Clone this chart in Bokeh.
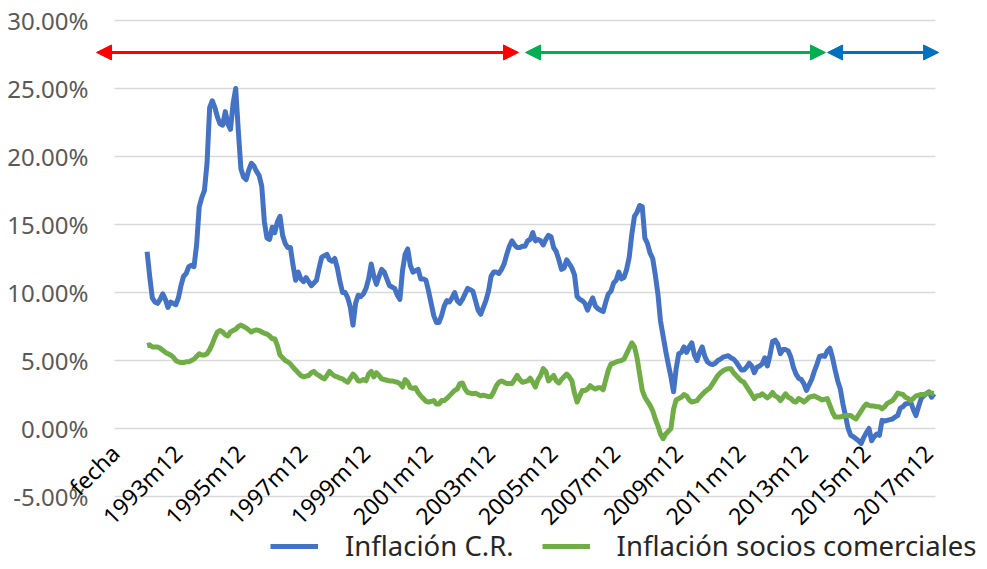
import math
from bokeh.plotting import figure
from bokeh.models import (Range1d, Legend, LegendItem, Arrow, NormalHead,
                          ColumnDataSource, LabelSet)
from bokeh.core.properties import value
from bokeh.embed import file_html
from bokeh.resources import INLINE

# ---------------- data ----------------
categories = ["fecha"] + [f"{y}m{m}" for y in range(1992, 2018) for m in range(1, 13)] + ["2018m1", "2018m2"]
tick_labels = ["fecha", "1993m12", "1995m12", "1997m12", "1999m12", "2001m12", "2003m12",
               "2005m12", "2007m12", "2009m12", "2011m12", "2013m12", "2015m12", "2017m12"]
y_ticks = [-5, 0, 5, 10, 15, 20, 25, 30]
first_month = "1992m12"

# Inflación C.R. (%), monthly
cr_1992 = [13.0]
cr_1993 = [11.2, 9.6, 9.3, 9.2, 9.5, 9.9, 9.5, 8.9, 9.3, 9.2, 9.1, 9.6]
cr_1994 = [10.5, 11.2, 11.4, 11.9, 12.0, 11.9, 13.5, 16.3, 17.0, 17.5, 19.5, 23.6]
cr_1995 = [24.1, 23.6, 22.9, 22.4, 22.3, 23.3, 22.4, 22.0, 23.9, 25.0, 21.9, 19.1]
cr_1996 = [18.5, 18.3, 19.0, 19.5, 19.3, 18.9, 18.6, 17.8, 15.2, 14.0, 13.9, 14.8]
cr_1997 = [14.4, 15.2, 15.6, 14.2, 13.6, 13.3, 13.3, 12.0, 10.9, 11.5, 11.0, 10.8]
cr_1998 = [11.1, 10.8, 10.5, 10.7, 10.9, 11.8, 12.6, 12.7, 12.8, 12.4, 12.3, 12.5]
cr_1999 = [11.8, 10.8, 10.0, 10.0, 9.6, 8.9, 7.6, 9.2, 9.8, 9.7, 9.9, 10.3]
cr_2000 = [11.0, 12.1, 11.2, 10.6, 11.2, 11.7, 11.5, 11.0, 10.5, 10.4, 10.3, 9.8]
cr_2001 = [9.5, 11.6, 12.8, 13.2, 12.0, 11.5, 11.6, 11.7, 11.0, 11.0, 10.9, 10.1]
cr_2002 = [9.2, 8.3, 7.8, 7.8, 8.3, 9.0, 9.4, 9.3, 9.6, 10.0, 9.4, 9.2]
cr_2003 = [9.5, 9.9, 10.3, 10.2, 10.1, 9.4, 8.7, 8.4, 8.9, 9.4, 10.1, 11.2]
cr_2004 = [11.5, 11.5, 11.4, 11.7, 12.1, 12.8, 13.4, 13.8, 13.5, 13.3, 13.3, 13.4]
cr_2005 = [13.4, 13.8, 13.9, 14.4, 13.8, 13.9, 13.8, 13.5, 13.9, 14.2, 14.1, 13.3]
cr_2006 = [13.0, 12.4, 11.7, 11.8, 12.4, 12.1, 11.8, 11.3, 9.7, 9.5, 9.4, 9.2]
cr_2007 = [8.7, 9.2, 9.6, 9.0, 8.8, 8.7, 8.6, 9.3, 9.9, 10.1, 10.7, 10.9]
cr_2008 = [11.5, 11.0, 11.1, 11.7, 12.6, 14.3, 15.6, 15.9, 16.4, 16.3, 14.0, 13.6]
cr_2009 = [12.9, 12.5, 11.3, 9.9, 7.9, 6.8, 5.7, 4.7, 3.8, 2.7, 4.4, 5.5]
cr_2010 = [5.6, 6.0, 5.6, 6.0, 6.3, 5.4, 5.0, 5.6, 6.0, 5.3, 4.9, 4.75]
cr_2011 = [4.7, 4.8, 5.0, 5.1, 5.25, 5.3, 5.35, 5.2, 5.1, 4.9, 4.6, 4.3]
cr_2012 = [4.3, 4.5, 4.8, 4.6, 4.1, 4.5, 4.6, 4.75, 5.2, 4.6, 5.4, 6.4]
cr_2013 = [6.5, 6.2, 5.5, 5.8, 5.8, 5.7, 5.25, 4.5, 4.0, 3.7, 3.6, 3.3]
cr_2014 = [2.8, 3.2, 3.6, 4.2, 4.7, 5.3, 5.35, 5.3, 5.7, 5.9, 5.2, 4.3]
cr_2015 = [3.5, 2.9, 1.8, 0.9, 0.0, -0.5, -0.6, -0.75, -0.9, -1.1, -0.65, -0.3]
cr_2016 = [0.0, -0.9, -0.6, -0.4, -0.5, 0.6, 0.55, 0.6, 0.65, 0.7, 0.85, 0.95]
cr_2017 = [1.5, 1.6, 1.8, 1.85, 1.95, 1.4, 0.95, 1.6, 2.2, 2.4, 2.55, 2.7]
cr_2018 = [2.3, 2.55]

# Inflación socios comerciales (%), monthly
sc_1992 = [6.1]
sc_1993 = [6.15, 6.0, 6.0, 6.0, 5.9, 5.75, 5.6, 5.5, 5.4, 5.25, 5.0, 4.9]
sc_1994 = [4.85, 4.85, 4.9, 4.9, 5.0, 5.1, 5.3, 5.5, 5.4, 5.4, 5.5, 5.8]
sc_1995 = [6.2, 6.7, 7.1, 7.2, 7.1, 6.9, 6.8, 7.1, 7.2, 7.3, 7.5, 7.6]
sc_1996 = [7.5, 7.4, 7.25, 7.1, 7.2, 7.25, 7.2, 7.1, 7.0, 6.95, 6.8, 6.6]
sc_1997 = [6.6, 6.1, 5.4, 5.2, 5.0, 4.9, 4.75, 4.5, 4.3, 4.1, 3.9, 3.8]
sc_1998 = [3.85, 3.9, 4.1, 4.2, 4.0, 3.9, 3.75, 3.65, 3.9, 4.2, 4.0, 3.85]
sc_1999 = [3.8, 3.7, 3.65, 3.5, 3.4, 3.7, 4.0, 3.8, 3.5, 3.5, 3.6, 3.5]
sc_2000 = [4.0, 4.2, 3.8, 4.1, 3.9, 3.65, 3.6, 3.55, 3.5, 3.5, 3.45, 3.4]
sc_2001 = [3.3, 3.05, 3.6, 3.4, 3.0, 2.95, 3.0, 2.65, 2.4, 2.2, 2.0, 1.95]
sc_2002 = [2.0, 2.05, 1.8, 1.8, 2.05, 2.05, 2.2, 2.4, 2.6, 2.8, 2.9, 3.3]
sc_2003 = [3.35, 2.9, 2.65, 2.6, 2.55, 2.6, 2.5, 2.4, 2.45, 2.4, 2.35, 2.35]
sc_2004 = [2.7, 3.15, 3.4, 3.5, 3.4, 3.3, 3.3, 3.3, 3.6, 3.9, 3.6, 3.4]
sc_2005 = [3.45, 3.5, 3.7, 3.4, 3.05, 3.6, 3.9, 4.4, 4.2, 3.5, 3.7, 3.9]
sc_2006 = [3.5, 3.35, 3.6, 3.8, 4.0, 3.8, 3.5, 2.6, 1.95, 2.4, 2.8, 2.8]
sc_2007 = [2.9, 3.15, 3.0, 2.9, 3.0, 3.0, 2.85, 3.6, 4.3, 4.75, 4.8, 4.9]
sc_2008 = [4.95, 5.0, 5.1, 5.5, 5.9, 6.3, 6.0, 5.2, 4.0, 2.8, 2.3, 2.0]
sc_2009 = [1.7, 1.3, 0.7, 0.2, -0.4, -0.75, -0.4, -0.2, 0.0, 1.4, 2.1, 2.2]
sc_2010 = [2.3, 2.5, 2.4, 2.1, 1.95, 2.0, 2.05, 2.3, 2.5, 2.7, 2.85, 3.0]
sc_2011 = [3.3, 3.6, 3.9, 4.1, 4.25, 4.35, 4.4, 4.4, 4.1, 3.9, 3.7, 3.5]
sc_2012 = [3.4, 3.1, 2.8, 2.5, 2.2, 2.4, 2.4, 2.55, 2.4, 2.25, 2.4, 2.65]
sc_2013 = [2.4, 2.3, 2.05, 2.3, 2.55, 2.3, 2.2, 2.0, 1.95, 2.2, 2.1, 1.95]
sc_2014 = [2.1, 2.3, 2.35, 2.4, 2.3, 2.2, 2.1, 2.15, 2.2, 1.7, 1.2, 0.85]
sc_2015 = [0.85, 0.85, 0.9, 0.95, 0.95, 0.95, 0.8, 0.7, 1.0, 1.3, 1.6, 1.8]
sc_2016 = [1.7, 1.65, 1.65, 1.6, 1.6, 1.45, 1.6, 1.85, 1.95, 2.05, 2.3, 2.6]
sc_2017 = [2.55, 2.5, 2.3, 2.2, 2.05, 2.2, 2.4, 2.45, 2.5, 2.5, 2.55, 2.65]
sc_2018 = [2.6, 2.6]

cr_values = (cr_1992 + cr_1993 + cr_1994 + cr_1995 + cr_1996 + cr_1997 + cr_1998 + cr_1999 +
             cr_2000 + cr_2001 + cr_2002 + cr_2003 + cr_2004 + cr_2005 + cr_2006 + cr_2007 +
             cr_2008 + cr_2009 + cr_2010 + cr_2011 + cr_2012 + cr_2013 + cr_2014 + cr_2015 +
             cr_2016 + cr_2017 + cr_2018)
sc_values = (sc_1992 + sc_1993 + sc_1994 + sc_1995 + sc_1996 + sc_1997 + sc_1998 + sc_1999 +
             sc_2000 + sc_2001 + sc_2002 + sc_2003 + sc_2004 + sc_2005 + sc_2006 + sc_2007 +
             sc_2008 + sc_2009 + sc_2010 + sc_2011 + sc_2012 + sc_2013 + sc_2014 + sc_2015 +
             sc_2016 + sc_2017 + sc_2018)

series_names = ["Inflación C.R.", "Inflación socios comerciales"]

# ---------------- styling ----------------
BLUE = "#4472C4"
GREEN = "#70AD47"
GRID = "#D9D9D9"
FONT = "Noto Sans"

n_cat = len(categories)
start = categories.index(first_month)
months = categories[start:start + len(cr_values)]
xs = [categories.index(mth) + 0.5 for mth in months]
src = ColumnDataSource(dict(x=xs, cr=cr_values, sc=sc_values, month=months))

# the frame covers the whole canvas; the plot area (category span x -5%..30%) sits inside it,
# with the value labels, category labels, arrows and legend drawn around it
p = figure(frame_width=985, frame_height=567,
           x_range=Range1d(-43.75, 334.2), y_range=Range1d(-10.22, 31.47),
           x_axis_location=None, y_axis_location=None,
           output_backend="svg", toolbar_location=None, min_border=0)
p.outline_line_color = None
p.background_fill_color = "white"
p.border_fill_color = "white"
p.xgrid.grid_line_color = None
p.ygrid.grid_line_color = None

# horizontal gridlines over the category span
p.segment(x0=[0] * len(y_ticks), x1=[n_cat] * len(y_ticks), y0=y_ticks, y1=y_ticks,
          line_color=GRID, line_width=1.5)

r_cr = p.line("x", "cr", source=src, line_color=BLUE, line_width=5, line_join="round")
r_sc = p.line("x", "sc", source=src, line_color=GREEN, line_width=5, line_join="round")

# value-axis labels
ytick_src = ColumnDataSource(dict(x=[0] * len(y_ticks), y=y_ticks,
                                  text=["%.2f%%" % t for t in y_ticks]))
p.add_layout(LabelSet(x="x", y="y", text="text", source=ytick_src,
                      text_align="right", text_baseline="middle", x_offset=-26,
                      text_font=value(FONT), text_font_size=value("24px"),
                      text_color="#595959"))

# category labels hang below the 0 line (category axis crossing at 0)
tick_src = ColumnDataSource(dict(x=[categories.index(t) + 0.5 for t in tick_labels],
                                 y=[0] * len(tick_labels), text=tick_labels))
p.add_layout(LabelSet(x="x", y="y", text="text", source=tick_src, angle=math.pi / 4,
                      text_align="right", text_baseline="top", x_offset=-12, y_offset=-9,
                      text_font=value(FONT), text_font_size=value("23px"), text_color="black"))

# period arrows (annotations)
arrow_y = 27.65
arrows = [(-6.9, 155.0, "#FF0000"), (157.7, 272.8, "#00B050"), (273.6, 316.2, "#0070C0")]
for x0, x1, col in arrows:
    p.add_layout(Arrow(x_start=x0, y_start=arrow_y, x_end=x1, y_end=arrow_y,
                       line_color=col, line_width=3,
                       start=NormalHead(size=15, fill_color=col, line_color=col),
                       end=NormalHead(size=15, fill_color=col, line_color=col)))

legend = Legend(items=[LegendItem(label=series_names[0], renderers=[r_cr]),
                       LegendItem(label=series_names[1], renderers=[r_sc])],
                orientation="horizontal", location=(270, 3),
                glyph_width=48, glyph_height=20, label_standoff=27, spacing=28,
                padding=0, margin=0, border_line_color=None, background_fill_alpha=0,
                label_text_font=FONT, label_text_font_size="27.5px", label_text_color="#262626")
p.add_layout(legend, "center")

open("out.html", "w").write(file_html(p, INLINE))
